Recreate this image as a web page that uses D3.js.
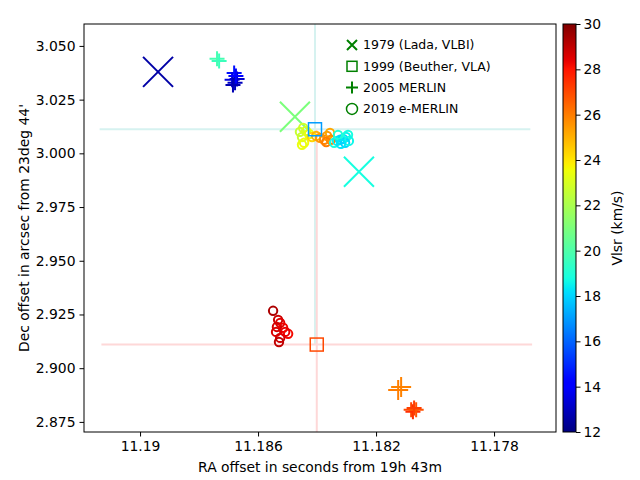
<!DOCTYPE html>
<html>
  <head>
    <meta charset="utf-8">
    <title>Maser positions</title>
    <script src="https://cdn.jsdelivr.net/npm/d3@7"></script>
    <style>
      body { margin: 0; background: #fff; }
      svg { font-family: "DejaVu Sans", sans-serif; }
    </style>
  </head>
  <body>
    <svg id="canvas" width="640" height="480"></svg>
    <script>
      // 1979 (Lada, VLBI)
      const ladaRa = [11.18939, 11.18475, 11.18258];
      const ladaDec = [3.0379, 3.0170, 2.9914];
      const ladaVlsr = [12.6, 21.0, 18.8];

      // 1999 (Beuther, VLA)
      const beutherRa = [11.18407, 11.18401];
      const beutherDec = [3.0112, 2.9110];
      const beutherVlsr = [17.0, 27.0];
      const beutherRaErr = [0.0073, 0.0073];
      const beutherDecErr = [0.1, 0.1];

      // 2005 MERLIN
      const merlinRa = [11.18739, 11.18732, 11.18681, 11.18688, 11.18671, 11.18678, 11.18675, 11.18685,
                        11.18125, 11.18115, 11.18081, 11.18075, 11.18064, 11.18071];
      const merlinDec = [3.0440, 3.0430, 3.0374, 3.0342, 3.0346, 3.0328, 3.0360, 3.0318,
                         2.8899, 2.8913, 2.8806, 2.8797, 2.8806, 2.8815];
      const merlinVlsr = [19.8, 19.6, 14.5, 13.5, 13.2, 13.0, 14.0, 12.8,
                          26.0, 25.9, 27.0, 27.5, 26.8, 27.2];
      const merlinBright = [1, 1, 1, 1, 1, 1, 1, 1, 2, 2, 1, 1, 1, 1];

      // 2019 e-MERLIN
      const emerlinRa = [11.18458, 11.18447, 11.18451, 11.18444, 11.18437, 11.18427, 11.18417, 11.18403,
                         11.18390, 11.18376, 11.18366, 11.18356, 11.18353, 11.18369,
                         11.18342, 11.18332, 11.18322, 11.18312, 11.18302, 11.18295, 11.18305, 11.18329,
                         11.18292, 11.18319, 11.18451,
                         11.18549, 11.18532, 11.18525, 11.18536, 11.18515, 11.18498, 11.18525, 11.18529,
                         11.18508, 11.18539];
      const emerlinDec = [3.0100, 3.0118, 3.0076, 3.0049, 3.0104, 3.0090, 3.0076, 3.0081,
                          3.0072, 3.0063, 3.0081, 3.0095, 3.0063, 3.0053,
                          3.0049, 3.0058, 3.0063, 3.0067, 3.0076, 3.0086, 3.0049, 3.0086,
                          3.0058, 3.0044, 3.0040,
                          2.9267, 2.9225, 2.9211, 2.9192, 2.9188, 2.9160, 2.9141, 2.9122,
                          2.9169, 2.9169];
      const emerlinVlsr = [22.6, 22.8, 22.7, 23.6, 23.0, 23.4, 24.3, 25.0,
                           25.5, 25.8, 25.5, 25.2, 25.8, 26.0,
                           18.8, 18.5, 18.2, 18.0, 18.5, 18.8, 18.0, 19.0,
                           18.6, 18.3, 23.4,
                           29.3, 28.8, 28.5, 28.7, 28.3, 28.2, 28.8, 29.0,
                           28.4, 28.6];

      const legendLabels = ["1979 (Lada, VLBI)", "1999 (Beuther, VLA)", "2005 MERLIN", "2019 e-MERLIN"];
      const xTicks = [11.19, 11.186, 11.182, 11.178];
      const yTicks = [2.875, 2.9, 2.925, 2.95, 2.975, 3.0, 3.025, 3.05];
      const cbTicks = [12, 14, 16, 18, 20, 22, 24, 26, 28, 30];

      // layout (window.top is read-only, so no bare "top")
      const pLeft = 84, pRight = 556, pTop = 24, pBottom = 432;
      const fontPx = 13.9;
      const canvas = d3.select("#canvas");

      const x = d3.scaleLinear()
        .domain([11.1919, 11.1759])
        .range([pLeft, pRight]);
      const y = d3.scaleLinear()
        .domain([2.8703, 3.0602])
        .range([pBottom, pTop]);

      // matplotlib jet
      const jetR = d3.scaleLinear().domain([0, 0.35, 0.66, 0.89, 1]).range([0, 0, 1, 1, 0.5]).clamp(true);
      const jetG = d3.scaleLinear().domain([0, 0.125, 0.375, 0.64, 0.91, 1]).range([0, 0, 1, 1, 0, 0]).clamp(true);
      const jetB = d3.scaleLinear().domain([0, 0.11, 0.34, 0.65, 1]).range([0.5, 1, 1, 0, 0]).clamp(true);
      const vNorm = d3.scaleLinear().domain([12, 30]).range([0, 1]).clamp(true);
      function jet(t) {
        return d3.rgb(jetR(t) * 255, jetG(t) * 255, jetB(t) * 255).formatHex();
      }
      function vColor(v) { return jet(vNorm(v)); }

      const defs = canvas.append("defs");
      defs.append("clipPath")
          .attr("id", "plotClip")
        .append("rect")
          .attr("x", pLeft)
          .attr("y", pTop)
          .attr("width", pRight - pLeft)
          .attr("height", pBottom - pTop);

      const plot = canvas.append("g")
        .attr("clip-path", "url(#plotClip)");

      // error bars of the 1999 positions
      const errColors = ["#d6f2f0", "#fed8d8"];
      beutherRa.forEach(function(ra, i) {
        plot.append("line")
          .attr("x1", x(ra - beutherRaErr[i]))
          .attr("x2", x(ra + beutherRaErr[i]))
          .attr("y1", y(beutherDec[i]))
          .attr("y2", y(beutherDec[i]))
          .attr("stroke", errColors[i])
          .attr("stroke-width", 2);
        plot.append("line")
          .attr("x1", x(ra))
          .attr("x2", x(ra))
          .attr("y1", y(beutherDec[i] - beutherDecErr[i]))
          .attr("y2", y(beutherDec[i] + beutherDecErr[i]))
          .attr("stroke", errColors[i])
          .attr("stroke-width", 2);
      });

      function crossPath(s) {
        return "M" + -s + "," + -s + "L" + s + "," + s + "M" + -s + "," + s + "L" + s + "," + -s;
      }
      function plusPath(s) {
        return "M" + -s + ",0L" + s + ",0M0," + -s + "L0," + s;
      }

      // 1979 crosses
      plot.selectAll(".lada")
          .data(ladaRa)
        .enter().append("path")
          .attr("transform", function(d, i) { return "translate(" + x(d) + "," + y(ladaDec[i]) + ")"; })
          .attr("d", crossPath(15))
          .attr("fill", "none")
          .attr("stroke", function(d, i) { return vColor(ladaVlsr[i]); })
          .attr("stroke-width", 2);

      // 2005 pluses
      plot.selectAll(".merlin")
          .data(merlinRa)
        .enter().append("path")
          .attr("transform", function(d, i) { return "translate(" + x(d) + "," + y(merlinDec[i]) + ")"; })
          .attr("d", function(d, i) { return plusPath(merlinBright[i] > 1 ? 10 : 7.5); })
          .attr("fill", "none")
          .attr("stroke", function(d, i) { return vColor(merlinVlsr[i]); })
          .attr("stroke-width", 2);

      // 2019 circles
      plot.selectAll(".emerlin")
          .data(emerlinRa)
        .enter().append("circle")
          .attr("cx", function(d) { return x(d); })
          .attr("cy", function(d, i) { return y(emerlinDec[i]); })
          .attr("r", 4.2)
          .attr("fill", "none")
          .attr("stroke", function(d, i) { return vColor(emerlinVlsr[i]); })
          .attr("stroke-width", 2);

      // 1999 squares
      plot.selectAll(".beuther")
          .data(beutherRa)
        .enter().append("rect")
          .attr("x", function(d) { return x(d) - 6.5; })
          .attr("y", function(d, i) { return y(beutherDec[i]) - 6.5; })
          .attr("width", 13)
          .attr("height", 13)
          .attr("fill", "none")
          .attr("stroke", function(d, i) { return vColor(beutherVlsr[i]); })
          .attr("stroke-width", 1.5);

      // axes
      canvas.append("g")
        .attr("transform", "translate(0," + pBottom + ")")
        .call(d3.axisBottom(x)
          .tickValues(xTicks)
          .tickSize(4.5)
          .tickPadding(5)
          .tickFormat(function(d) { return String(+d.toFixed(3)); }));
      canvas.append("g")
        .attr("transform", "translate(" + pLeft + ",0)")
        .call(d3.axisLeft(y)
          .tickValues(yTicks)
          .tickSize(4.5)
          .tickPadding(4)
          .tickFormat(d3.format(".3f")));

      canvas.append("rect")
        .attr("x", pLeft)
        .attr("y", pTop)
        .attr("width", pRight - pLeft)
        .attr("height", pBottom - pTop)
        .attr("fill", "none")
        .attr("stroke", "#000")
        .attr("stroke-width", 1);

      canvas.append("text")
        .attr("x", (pLeft + pRight) / 2)
        .attr("y", 472)
        .attr("text-anchor", "middle")
        .attr("font-size", fontPx)
        .text("RA offset in seconds from 19h 43m");
      canvas.append("text")
        .attr("transform", "translate(29," + (pTop + pBottom) / 2 + ") rotate(-90)")
        .attr("text-anchor", "middle")
        .attr("font-size", fontPx)
        .text("Dec offset in arcsec from 23deg 44'");

      // legend
      const legendMarks = [
        function(g) { g.append("path").attr("d", crossPath(5)).attr("stroke-width", 2); },
        function(g) { g.append("rect").attr("x", -5).attr("y", -5).attr("width", 10).attr("height", 10).attr("stroke-width", 1.5); },
        function(g) { g.append("path").attr("d", plusPath(6)).attr("stroke-width", 2); },
        function(g) { g.append("circle").attr("r", 5.5).attr("stroke-width", 1.5); }
      ];
      const legend = canvas.selectAll(".legend")
          .data(legendLabels)
        .enter().append("g")
          .attr("transform", function(d, i) { return "translate(352," + (45 + i * 21.3) + ")"; });
      legend.each(function(d, i) {
        let g = d3.select(this).append("g")
          .attr("fill", "none")
          .attr("stroke", "green");
        legendMarks[i](g);
      });
      legend.append("text")
        .attr("x", 11)
        .attr("dy", "0.35em")
        .attr("font-size", 12.5)
        .text(function(d) { return d; });

      // colorbar
      const cbLeft = 563, cbRight = 576;
      const cbScale = d3.scaleLinear().domain([12, 30]).range([pBottom, pTop]);
      const gradient = defs.append("linearGradient")
        .attr("id", "jet")
        .attr("x1", 0).attr("y1", 1).attr("x2", 0).attr("y2", 0);
      gradient.selectAll("stop")
          .data(d3.range(0, 1.0001, 0.01))
        .enter().append("stop")
          .attr("offset", function(d) { return d; })
          .attr("stop-color", function(d) { return jet(d); });
      canvas.append("rect")
        .attr("x", cbLeft)
        .attr("y", pTop)
        .attr("width", cbRight - cbLeft)
        .attr("height", pBottom - pTop)
        .attr("fill", "url(#jet)")
        .attr("stroke", "#000")
        .attr("stroke-width", 1);
      canvas.append("g")
        .attr("transform", "translate(" + cbRight + ",0)")
        .call(d3.axisRight(cbScale)
          .tickValues(cbTicks)
          .tickSize(4.5)
          .tickPadding(3));

      canvas.selectAll(".domain").remove();
      canvas.selectAll(".tick text")
        .attr("font-size", fontPx)
        .attr("font-family", "DejaVu Sans")
        .attr("fill", "#000");
      canvas.selectAll(".tick line").attr("stroke", "#000");

      canvas.append("text")
        .attr("transform", "translate(622," + (pTop + pBottom) / 2 + ") rotate(-90)")
        .attr("text-anchor", "middle")
        .attr("font-size", fontPx)
        .text("Vlsr (km/s)");
    </script>
  </body>
</html>
